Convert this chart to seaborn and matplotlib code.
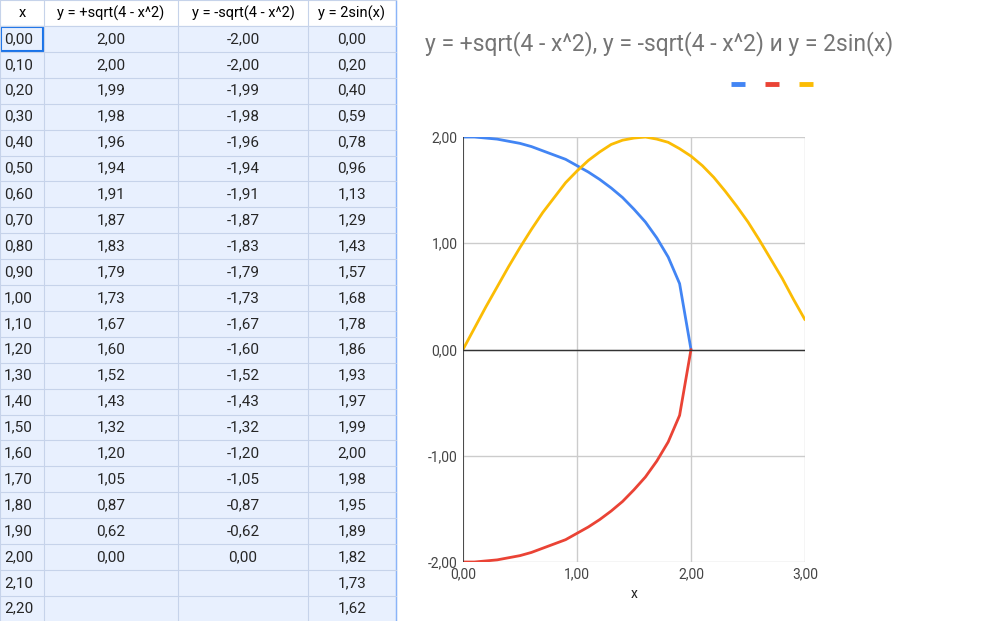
import numpy as np
import pandas as pd
import matplotlib
matplotlib.use("Agg")
import matplotlib.pyplot as plt
import seaborn as sns

# data read from the sheet
x_vals = [0.0, 0.1, 0.2, 0.3, 0.4, 0.5, 0.6, 0.7, 0.8, 0.9, 1.0, 1.1, 1.2, 1.3, 1.4, 1.5,
          1.6, 1.7, 1.8, 1.9, 2.0, 2.1, 2.2, 2.3, 2.4, 2.5, 2.6, 2.7, 2.8, 2.9, 3.0]
y_top = [2.00, 2.00, 1.99, 1.98, 1.96, 1.94, 1.91, 1.87, 1.83, 1.79, 1.73, 1.67, 1.60,
         1.52, 1.43, 1.32, 1.20, 1.05, 0.87, 0.62, 0.00]
y_bot = [-2.00, -2.00, -1.99, -1.98, -1.96, -1.94, -1.91, -1.87, -1.83, -1.79, -1.73,
         -1.67, -1.60, -1.52, -1.43, -1.32, -1.20, -1.05, -0.87, -0.62, 0.00]
y_sin = [0.00, 0.20, 0.40, 0.59, 0.78, 0.96, 1.13, 1.29, 1.43, 1.57, 1.68, 1.78, 1.86,
         1.93, 1.97, 1.99, 2.00, 1.98, 1.95, 1.89, 1.82, 1.73, 1.62, 1.49, 1.35, 1.20,
         1.03, 0.85, 0.67, 0.47, 0.28]
headers = ["x", "y = +sqrt(4 - x^2)", "y = -sqrt(4 - x^2)", "y = 2sin(x)"]
n_rows = 23

def fmt(v):
    s = f"{v:.2f}".replace(".", ",")
    return "0,00" if s == "-0,00" else s

sns.set_style("white")
plt.rcParams['font.family'] = ['Roboto', 'DejaVu Sans']
fig = plt.figure(figsize=(9.92, 6.21), dpi=100)

# ---- table (pixel coordinates)
tab = fig.add_axes([0, 0, 1, 1])
tab.set_xlim(0, 992)
tab.set_ylim(621, 0)
tab.axis("off")
col_edges = [0, 44, 178, 308, 396]
row_h = 25.9
top = 26
tab.add_patch(plt.Rectangle((0, top), 396, row_h * n_rows, color="#e8f0fe", zorder=0))
for c in col_edges:
    tab.plot([c, c], [0, top + row_h * n_rows], color="#c6d3ea", lw=0.8)
tab.plot([396, 396], [0, 621], color="#8ab4f8", lw=1)
for r in range(n_rows + 1):
    y = top + r * row_h
    tab.plot([0, 396], [y, y], color="#c6d3ea", lw=0.8)
tab.plot([0, 396], [0, 0], color="#c6d3ea", lw=0.8)
tab.add_patch(plt.Rectangle((1, top + 1), 42, row_h - 2, fill=False, ec="#1a73e8", lw=1.5))
for i, h in enumerate(headers):
    tab.text((col_edges[i] + col_edges[i + 1]) / 2, top / 2, h, ha="center", va="center",
             fontsize=10.5, color="#000000")
for r in range(n_rows):
    yc = top + r * row_h + row_h / 2
    tab.text(4, yc, fmt(x_vals[r]), ha="left", va="center", fontsize=11)
    if r < len(y_top):
        tab.text(111, yc, fmt(y_top[r]), ha="center", va="center", fontsize=11)
        tab.text(243, yc, fmt(y_bot[r]), ha="center", va="center", fontsize=11)
    tab.text(352, yc, fmt(y_sin[r]), ha="center", va="center", fontsize=11)

# ---- chart
tab.text(425, 44, "y = +sqrt(4 - x^2), y = -sqrt(4 - x^2) и y = 2sin(x)", fontsize=16.5,
         color="#757575", va="center")
for xp, col in zip([738, 772, 806], ["#4285f4", "#ea4335", "#fbbc04"]):
    tab.plot([xp - 7, xp + 7], [84, 84], color=col, lw=3.5, solid_capstyle="butt")

ax = fig.add_axes([463 / 992, 59 / 621, 342 / 992, 425 / 621])
df_c = pd.DataFrame({"x": x_vals[:len(y_top)], "top": y_top, "bot": y_bot})
df_s = pd.DataFrame({"x": x_vals, "sin": y_sin})
sns.lineplot(data=df_c, x="x", y="top", ax=ax, color="#4285f4", lw=2)
sns.lineplot(data=df_c, x="x", y="bot", ax=ax, color="#ea4335", lw=2)
sns.lineplot(data=df_s, x="x", y="sin", ax=ax, color="#fbbc04", lw=2)
ax.set_xlim(0, 3)
ax.set_ylim(-2, 2)
ax.set_xticks([0, 1, 2, 3])
ax.set_yticks([-2, -1, 0, 1, 2])
ax.set_xticklabels([fmt(v) for v in [0, 1, 2, 3]], fontsize=10, color="#444444")
ax.set_yticklabels([fmt(v) for v in [-2, -1, 0, 1, 2]], fontsize=10, color="#444444")
ax.grid(True, color="#cccccc", lw=1)
ax.axhline(0, color="#333333", lw=1)
for s in ax.spines.values():
    s.set_visible(False)
ax.axvline(0, color="#333333", lw=1.2)
ax.tick_params(length=0, pad=4)
ax.set_xlabel("x", fontsize=10, color="#222222")
ax.set_ylabel("")

fig.savefig("out.png", dpi=100)
